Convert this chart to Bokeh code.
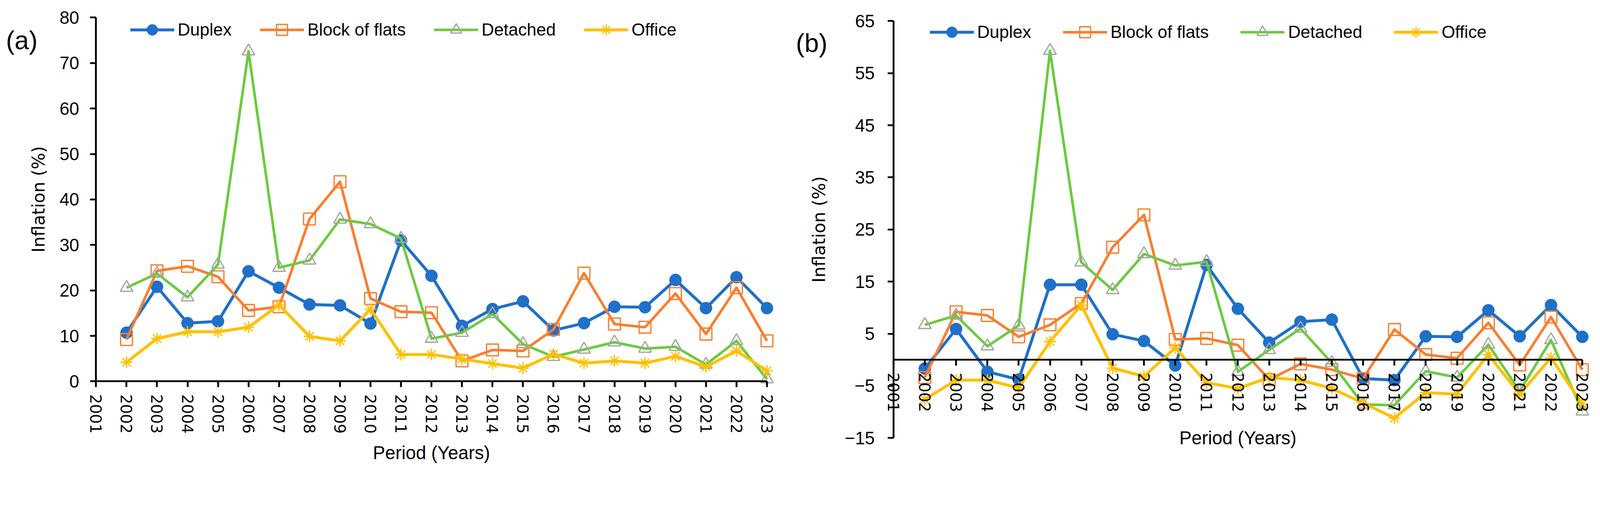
from bokeh.plotting import figure
from bokeh.models import Range1d, LinearAxis, FixedTicker, Legend, LegendItem, Label
from bokeh.layouts import row
from bokeh.embed import file_html
from bokeh.resources import INLINE

# ---------------- data ----------------
years = [2002, 2003, 2004, 2005, 2006, 2007, 2008, 2009, 2010, 2011, 2012,
         2013, 2014, 2015, 2016, 2017, 2018, 2019, 2020, 2021, 2022, 2023]
tick_years = [2001, 2002, 2003, 2004, 2005, 2006, 2007, 2008, 2009, 2010, 2011, 2012,
              2013, 2014, 2015, 2016, 2017, 2018, 2019, 2020, 2021, 2022, 2023]
series_names = ["Duplex", "Block of flats", "Detached", "Office"]

a_yticks = [0, 10, 20, 30, 40, 50, 60, 70, 80]
b_yticks = [-15, -5, 5, 15, 25, 35, 45, 55, 65]

a_duplex = [10.7, 20.8, 12.8, 13.2, 24.2, 20.6, 16.9, 16.7, 12.7, 31.0, 23.2,
            12.2, 15.9, 17.6, 11.2, 12.8, 16.4, 16.3, 22.3, 16.1, 22.9, 16.1]
a_block = [9.2, 24.3, 25.3, 23.0, 15.6, 16.4, 35.7, 43.9, 18.2, 15.3, 15.1,
           4.5, 6.9, 6.7, 11.4, 23.8, 12.6, 11.9, 19.3, 10.4, 20.6, 8.9]
a_detached = [20.6, 23.7, 18.5, 25.7, 72.6, 25.0, 26.6, 35.6, 34.6, 31.4, 9.4,
              10.7, 14.8, 8.2, 5.4, 7.0, 8.6, 7.2, 7.6, 3.7, 8.9, 0.5]
a_office = [4.2, 9.4, 10.9, 10.9, 11.9, 16.8, 9.9, 8.9, 15.9, 5.9, 5.9,
            4.9, 3.9, 2.9, 6.0, 4.0, 4.5, 4.0, 5.5, 3.2, 6.7, 2.3]

b_duplex = [-1.7, 5.9, -2.3, -3.8, 14.4, 14.4, 4.9, 3.6, -1.1, 18.2, 9.8,
            3.3, 7.3, 7.7, -3.6, -3.9, 4.5, 4.4, 9.5, 4.5, 10.5, 4.4]
b_block = [-3.4, 9.2, 8.5, 4.4, 6.7, 10.8, 21.6, 27.8, 3.9, 4.1, 2.8,
           -3.8, -0.8, -1.9, -3.6, 5.8, 1.0, 0.3, 7.1, -1.0, 8.2, -1.9]
b_detached = [6.7, 8.5, 2.6, 6.6, 59.3, 18.7, 13.4, 20.3, 18.1, 18.8, -2.3,
              1.9, 6.0, -0.6, -8.6, -8.7, -2.2, -3.4, 2.9, -6.0, 3.8, -9.9]
b_office = [-7.6, -3.9, -3.9, -5.4, 3.5, 10.5, -1.6, -3.2, 2.3, -4.4, -5.5,
            -3.4, -3.9, -5.5, -8.3, -11.2, -6.3, -6.6, 1.0, -6.6, 0.4, -8.5]

# ---------------- layout (picture px -> css px) ----------------
S = 0.944          # picture px to css px
M = 8              # page margin (css)
LPIC = M / S       # canvas left / top in picture px
TPIC = M / S
BPIC = 1280.0      # canvas bottom in picture px
SPLIT = 2146.0     # boundary between the two figures (picture px)
RPIC = 4329.0      # right edge of second figure (picture px)


def px(v):
    return v * S


def fs(v):
    return "%.1fpx" % (v * S)


STYLES = [
    dict(color="#1F70C8", lw=8, marker="circle", m_line="#1F70C8", m_fill="#1F70C8", size=33, m_lw=1),
    dict(color="#FA7D2E", lw=7, marker="square", m_line="#FA7D2E", m_fill=None, size=32, m_lw=3.5),
    dict(color="#6ACB3C", lw=7, marker="triangle", m_line="#A6A6A6", m_fill=None, size=34, m_lw=3.5),
    dict(color="#FFC000", lw=8, marker="asterisk", m_line="#FFC000", m_fill=None, size=32, m_lw=3.5),
]
SANS = "Liberation Sans"
VERD = "DejaVu Sans"
GLYPH_H = 75


def make_panel(left, right, x_first_px, px_per_year, y_zero_px, px_per_unit, yticks, series,
               tag, tag_pos, legend_pos, legend_spacing, ytick_standoff, ylab_standoff, xlab_standoff):
    width = int(round((right - left) * S))
    height = int(round((BPIC - TPIC) * S))
    x0 = tick_years[0] - (x_first_px - left) / px_per_year
    x1 = tick_years[0] + (right - x_first_px) / px_per_year
    y1 = (y_zero_px - TPIC) / px_per_unit
    y0 = -(BPIC - y_zero_px) / px_per_unit
    p = figure(width=width, height=height, x_range=Range1d(x0, x1), y_range=Range1d(y0, y1),
               x_axis_type=None, y_axis_type=None, output_backend="svg",
               toolbar_location=None, tools="", min_border=0)
    p.outline_line_color = None
    p.background_fill_color = "white"
    p.border_fill_color = "white"

    items = []
    for name, vals, st in zip(series_names, series, STYLES):
        lr = p.line(years, vals, line_color=st["color"], line_width=px(st["lw"]), line_join="round")
        sr = p.scatter(years, vals, marker=st["marker"], size=px(st["size"]),
                       line_color=st["m_line"], fill_color=st["m_fill"], line_width=px(st["m_lw"]))
        items.append(LegendItem(label=name, renderers=[lr, sr]))

    xaxis = LinearAxis(fixed_location=0, bounds=(tick_years[0], tick_years[-1]),
                       ticker=FixedTicker(ticks=tick_years),
                       axis_label="Period (Years)",
                       axis_label_text_font=SANS, axis_label_text_font_size=fs(50),
                       axis_label_text_font_style="normal", axis_label_text_color="black",
                       axis_label_standoff=int(px(xlab_standoff)),
                       major_label_orientation="vertical",
                       major_label_text_font=VERD, major_label_text_font_size=fs(42),
                       major_label_text_color="black", major_label_standoff=int(px(20)),
                       axis_line_width=px(5), axis_line_color="black",
                       major_tick_line_width=px(5), major_tick_line_color="black",
                       major_tick_out=int(px(16)), major_tick_in=0, minor_tick_line_color=None)
    p.add_layout(xaxis, "below")

    yaxis = LinearAxis(fixed_location=tick_years[0], bounds=(yticks[0], yticks[-1]),
                       ticker=FixedTicker(ticks=yticks),
                       axis_label="Inflation (%)",
                       axis_label_text_font=VERD, axis_label_text_font_size=fs(47),
                       axis_label_text_font_style="normal", axis_label_text_color="black",
                       axis_label_standoff=int(px(ylab_standoff)),
                       major_label_text_font=SANS, major_label_text_font_size=fs(48),
                       major_label_text_color="black", major_label_standoff=int(px(ytick_standoff)),
                       axis_line_width=px(5), axis_line_color="black",
                       major_tick_line_width=px(5), major_tick_line_color="black",
                       major_tick_out=int(px(16)), major_tick_in=0, minor_tick_line_color=None)
    p.add_layout(yaxis, "left")

    lx = (legend_pos[0] - left) * S
    ly = (BPIC - legend_pos[1]) * S - px(GLYPH_H) / 2
    legend = Legend(items=items, orientation="horizontal", location=(lx, ly),
                    glyph_width=int(px(120)), glyph_height=int(px(GLYPH_H)),
                    label_standoff=int(px(10)), spacing=int(px(legend_spacing)),
                    padding=0, margin=0, border_line_color=None, background_fill_alpha=0,
                    label_text_font=SANS, label_text_font_size=fs(47),
                    label_text_color="black", label_text_baseline="middle")
    p.add_layout(legend)

    p.add_layout(Label(x=(tag_pos[0] - left) * S, y=(BPIC - tag_pos[1]) * S,
                       x_units="screen", y_units="screen",
                       text=tag, text_font=SANS, text_font_size=fs(70),
                       text_align="center", text_baseline="middle", text_color="black"))
    return p


pa = make_panel(LPIC, SPLIT, 268.3, 82.7, 1042.0, 12.33, a_yticks,
                [a_duplex, a_block, a_detached, a_office], "(a)", (67, 117),
                (361, 89), 77, 30, 27, 22)
pb = make_panel(SPLIT, RPIC, 2430.7, 84.9, 983.5, 14.13, b_yticks,
                [b_duplex, b_block, b_detached, b_office], "(b)", (2209, 125),
                (2529, 95), 86, 35, 41, 40)

layout = row(pa, pb)
open("out.html", "w").write(file_html(layout, INLINE))
